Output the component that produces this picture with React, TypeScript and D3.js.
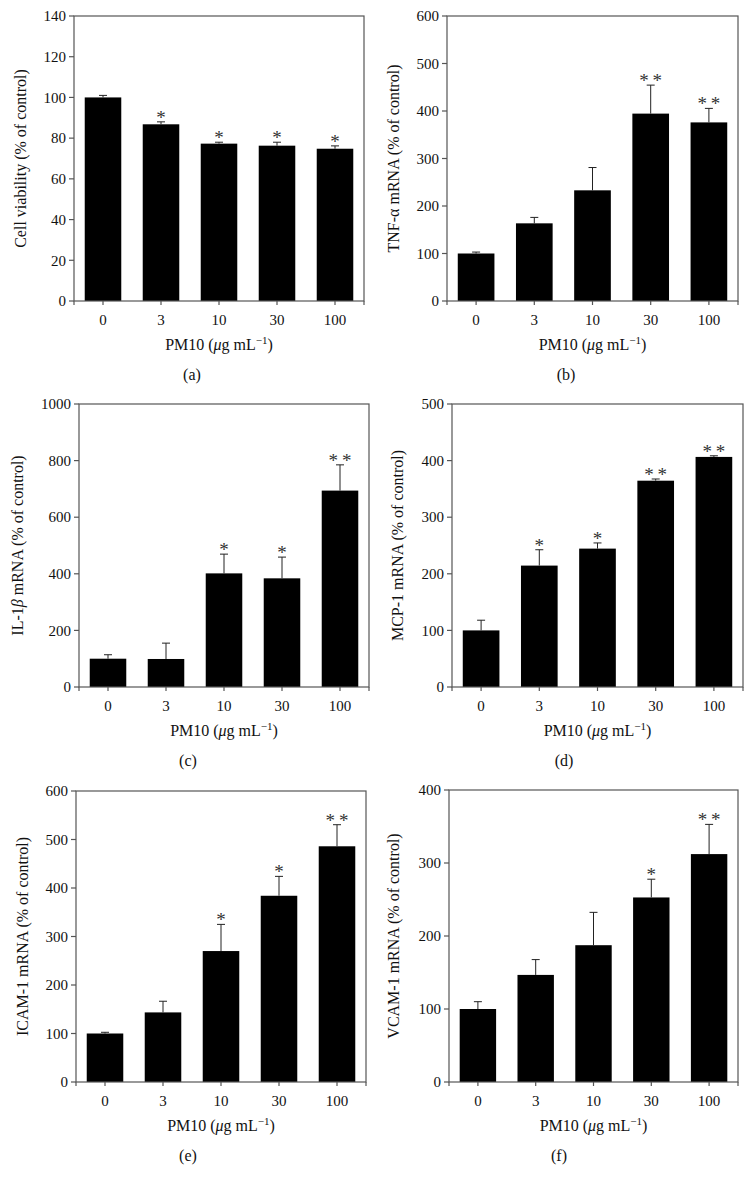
import React from 'react';
import * as d3 from 'd3';

const doses = ['0', '3', '10', '30', '100'];

const viability = [100, 86.8, 77.3, 76.3, 74.8];
const viabilityErr = [1, 1.2, 0.7, 1.7, 1.4];
const viabilityStars = ['', '*', '*', '*', '*'];
const viabilityTicks = [0, 20, 40, 60, 80, 100, 120, 140];

const tnf = [100, 163.5, 233, 394.5, 376];
const tnfErr = [3, 12.5, 48, 60, 29.5];
const tnfStars = ['', '', '', '**', '**'];
const tnfTicks = [0, 100, 200, 300, 400, 500, 600];

const il1b = [100, 99, 401.5, 384, 694];
const il1bErr = [14, 56, 68, 75, 91];
const il1bStars = ['', '', '*', '*', '**'];
const il1bTicks = [0, 200, 400, 600, 800, 1000];

const mcp1 = [100, 214.5, 244.5, 364.5, 406.5];
const mcp1Err = [18, 28, 10, 3, 2];
const mcp1Stars = ['', '*', '*', '**', '**'];
const mcp1Ticks = [0, 100, 200, 300, 400, 500];

const icam1 = [100, 143.5, 270, 384, 486];
const icam1Err = [2.5, 23, 55, 40, 44.5];
const icam1Stars = ['', '', '*', '*', '**'];
const icam1Ticks = [0, 100, 200, 300, 400, 500, 600];

const vcam1 = [100, 146.7, 187.4, 252.8, 312.2];
const vcam1Err = [10, 21, 45, 25, 40.7];
const vcam1Stars = ['', '', '', '*', '**'];
const vcam1Ticks = [0, 100, 200, 300, 400];

const FONT = '"Liberation Serif", "Times New Roman", serif';
const AXIS = '#555';
const TEXT = '#111';

type PanelProps = {
  left: number; right: number; top: number; bottom: number;
  ticks: number[]; values: number[]; errs: number[]; stars: string[];
  yLabel: React.ReactNode; labelX: number; letter: string; letterX: number;
};

function Panel(p: PanelProps) {
  const yMax = p.ticks[p.ticks.length - 1];
  const x = d3.scaleBand<string>().domain(doses)
    .range([p.left, p.right]).paddingInner(0.37).paddingOuter(0.185);
  const y = d3.scaleLinear().domain([0, yMax]).range([p.bottom, p.top]);
  const bw = x.bandwidth();
  const cy = (p.top + p.bottom) / 2;
  return (
    <g>
      {doses.map((d, i) => {
        const cx = (x(d) as number) + bw / 2;
        const v = p.values[i];
        const e = p.errs[i];
        const yt = y(v + e);
        return (
          <g key={d}>
            <rect x={x(d)} y={y(v)} width={bw} height={p.bottom - y(v)} fill="#000" />
            <line x1={cx} x2={cx} y1={y(v)} y2={yt} stroke="#222" strokeWidth={1} />
            <line x1={cx - 4} x2={cx + 4} y1={yt} y2={yt} stroke="#222" strokeWidth={1} />
            {p.stars[i] && (
              <text x={cx} y={yt + 2} textAnchor="middle" fontFamily={FONT} fontSize={19} fill="#333">
                {p.stars[i] === '**' ? '*\u2009*' : '*'}
              </text>
            )}
          </g>
        );
      })}
      <rect x={p.left} y={p.top} width={p.right - p.left} height={p.bottom - p.top}
        fill="none" stroke={AXIS} strokeWidth={1.2} />
      {p.ticks.map((t) => (
        <g key={t}>
          <line x1={p.left - 5} x2={p.left} y1={y(t)} y2={y(t)} stroke={AXIS} strokeWidth={1.2} />
          <text x={p.left - 8} y={y(t)} dy="0.35em" textAnchor="end" fontFamily={FONT} fontSize={15} fill={TEXT}>{t}</text>
        </g>
      ))}
      {[p.left, p.right].map((xx, i) => (
        <line key={'e' + i} x1={xx} x2={xx} y1={p.bottom} y2={p.bottom + 4} stroke={AXIS} strokeWidth={1.2} />
      ))}
      {doses.map((d) => {
        const cx = (x(d) as number) + bw / 2;
        return (
          <g key={'x' + d}>
            <line x1={cx} x2={cx} y1={p.bottom} y2={p.bottom + 4} stroke={AXIS} strokeWidth={1.2} />
            <text x={cx} y={p.bottom + 24} textAnchor="middle" fontFamily={FONT} fontSize={15} fill={TEXT}>{d}</text>
          </g>
        );
      })}
      <text x={(p.left + p.right) / 2} y={p.bottom + 49} textAnchor="middle" fontFamily={FONT} fontSize={16} fill={TEXT}>
        PM10 (<tspan fontStyle="italic">μ</tspan>g mL<tspan fontSize={11} dy={-6}>−1</tspan><tspan dy={6}>)</tspan>
      </text>
      <text transform={`translate(${p.labelX},${cy}) rotate(-90)`} textAnchor="middle" fontFamily={FONT} fontSize={16} fill={TEXT}>
        {p.yLabel}
      </text>
      <text x={p.letterX} y={p.bottom + 79} textAnchor="middle" fontFamily={FONT} fontSize={16} fill={TEXT}>{p.letter}</text>
    </g>
  );
}

export default function App() {
  return (
    <svg width={753} height={1188} style={{ position: 'absolute', left: 0, top: 0, background: '#fff' }}>
      <rect x={0} y={0} width={753} height={1188} fill="#fff" />
      <Panel left={74} right={364} top={16} bottom={301} ticks={viabilityTicks} values={viability}
        errs={viabilityErr} stars={viabilityStars} yLabel="Cell viability (% of control)" labelX={26}
        letter="(a)" letterX={192} />
      <Panel left={447} right={738} top={16} bottom={301} ticks={tnfTicks} values={tnf}
        errs={tnfErr} stars={tnfStars} yLabel="TNF-α mRNA (% of control)" labelX={399}
        letter="(b)" letterX={566} />
      <Panel left={79} right={369} top={404} bottom={687} ticks={il1bTicks} values={il1b}
        errs={il1bErr} stars={il1bStars}
        yLabel={<>IL-1<tspan fontStyle="italic">β</tspan> mRNA (% of control)</>} labelX={23}
        letter="(c)" letterX={188} />
      <Panel left={452} right={743} top={404} bottom={687} ticks={mcp1Ticks} values={mcp1}
        errs={mcp1Err} stars={mcp1Stars} yLabel="MCP-1 mRNA (% of control)" labelX={403}
        letter="(d)" letterX={564} />
      <Panel left={76} right={366} top={791} bottom={1082} ticks={icam1Ticks} values={icam1}
        errs={icam1Err} stars={icam1Stars} yLabel="ICAM-1 mRNA (% of control)" labelX={28}
        letter="(e)" letterX={188} />
      <Panel left={449} right={738} top={790} bottom={1082} ticks={vcam1Ticks} values={vcam1}
        errs={vcam1Err} stars={vcam1Stars} yLabel="VCAM-1 mRNA (% of control)" labelX={399}
        letter="(f)" letterX={559} />
    </svg>
  );
}
